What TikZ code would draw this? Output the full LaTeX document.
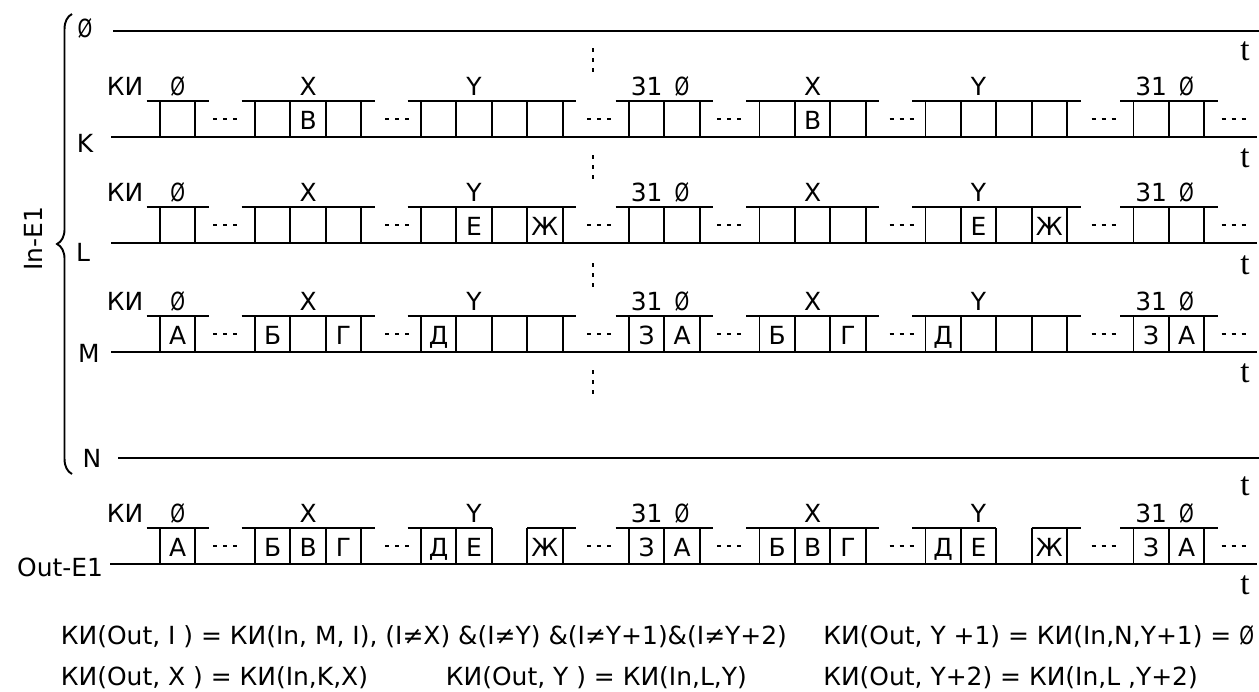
\documentclass[tikz,border=0pt]{standalone}
\usepackage{fontspec}
\usepackage{graphicx}
\usetikzlibrary{decorations.pathreplacing}
\newfontfamily\plotfont{DejaVu Sans}
\newfontfamily\tfont{Liberation Serif}
\newcommand{\nulsym}{\scalebox{0.75}[1]{Ø}}
% группа ячеек: #1 -- линия, #2 -- первая граница, #3 -- число ячеек
\newcommand{\cellgrp}[3]{%
  \draw (#2-13.5,#1-36) -- (#2+#3*35.4+13.5,#1-36);
  \foreach \i in {0,...,#3} \draw (#2+\i*35.4,#1) -- (#2+\i*35.4,#1-36);
}
\tikzset{
  txt/.style={inner sep=0pt, anchor=base},
  tlbl/.style={inner sep=0pt, anchor=base, font=\tfont\fontsize{19}{21}\selectfont},
  gap/.style={dash pattern=on 2.5pt off 3.2pt},
}
\begin{document}
\begin{tikzpicture}[x=0.02cm, y=-0.02cm, line width=1.1pt, line cap=butt,
    font=\plotfont\fontsize{14.2}{16}\selectfont]
  \useasboundingbox (0,0) rectangle (1259,691);

  % Линии
  \draw (113,31) -- (1259,31);
  \foreach \y in {137,243,352} \draw (111,\y) -- (1257,\y);
  \draw (118,458) -- (1259,458);
  \draw (110,564) -- (1257,564);

  % Имена линий
  \node[txt] (l0) at (85,37) {\nulsym};
  \node[txt] (lk) at (85,152) {K};
  \node[txt] (ll) at (83,261) {L};
  \node[txt] (lm) at (89,362) {M};
  \node[txt] (ln) at (92,467) {N};
  \draw[decorate, decoration={brace, amplitude=8.5pt}] (72,474) -- (72,14);
  \node[rotate=90, inner sep=0pt] (in) at (33,239) {In-E1};
  \node[txt, anchor=base east] (out) at (104,576) {Out-E1};

  % Ось t
  \foreach \b [count=\k] in {60,167,274,382,495,594}
    \node[tlbl] (t\k) at (1245,\b) {t};

  % Канальные интервалы
  \foreach \y in {137,243,352,564} {
    \cellgrp{\y}{160}{1}
    \draw[gap] (213,\y-18) -- (238,\y-18);
    \node[txt] (ki\y) at (125,\y-42) {КИ};
    \node[txt] (n\y) at (177.7,\y-42) {\nulsym};
    \foreach \p [count=\k] in {0,504.5} {
      \cellgrp{\y}{255+\p}{3}
      \cellgrp{\y}{629+\p}{2}
      \draw[gap] (385+\p,\y-18) -- (410+\p,\y-18);
      \draw[gap] (587+\p,\y-18) -- (612+\p,\y-18);
      \draw[gap] (717+\p,\y-18) -- (742+\p,\y-18);
      \node[txt] (x\y\k) at (308.1+\p,\y-42) {X};
      \node[txt] (y\y\k) at (474.1+\p,\y-42) {Y};
      \node[txt] (s\y\k) at (646.7+\p,\y-42) {31};
      \node[txt] (o\y\k) at (682.1+\p,\y-42) {\nulsym};
    }
  }
  \foreach \y in {137,243,352} {
    \foreach \p in {0,504.5} {\cellgrp{\y}{421+\p}{4}}
  }
  \foreach \p in {0,504.5} {
    \draw (407.5+\p,528) -- (491.8+\p,528);
    \draw (527.2+\p,528) -- (576+\p,528);
    \foreach \i in {0,...,4} \draw (421+\p+\i*35.4,564) -- (421+\p+\i*35.4,528);
  }

  % Многоточия
  \foreach \v in {48,155,263,370} \draw[gap] (593,\v) -- (593,\v+24);

  % Содержимое K
  \foreach \p [count=\k] in {0,504.5}
    \node[txt] (kv\k) at (308.1+\p,129) {В};
  % Содержимое L
  \foreach \p [count=\k] in {0,504.5} {
    \node[txt] (le\k) at (474.1+\p,235) {Е};
    \node[txt] (lz\k) at (544.9+\p,235) {Ж};
  }
  % Содержимое M
  \node[txt] (ma) at (177.7,344) {А};
  \foreach \p [count=\k] in {0,504.5} {
    \node[txt] (mb\k) at (272.7+\p,344) {Б};
    \node[txt] (mg\k) at (343.5+\p,344) {Г};
    \node[txt] (md\k) at (438.7+\p,344) {Д};
    \node[txt] (mz\k) at (646.7+\p,344) {З};
    \node[txt] (mq\k) at (682.1+\p,344) {А};
  }
  % Содержимое Out
  \node[txt] (oa) at (177.7,556) {А};
  \foreach \p [count=\k] in {0,504.5} {
    \node[txt] (ob\k) at (272.7+\p,556) {Б};
    \node[txt] (ov\k) at (308.1+\p,556) {В};
    \node[txt] (og\k) at (343.5+\p,556) {Г};
    \node[txt] (od\k) at (438.7+\p,556) {Д};
    \node[txt] (oe\k) at (474.1+\p,556) {Е};
    \node[txt] (oz\k) at (544.9+\p,556) {Ж};
    \node[txt] (o3\k) at (646.7+\p,556) {З};
    \node[txt] (oq\k) at (682.1+\p,556) {А};
  }

  % Формулы
  \node[txt, anchor=base west] (f1) at (60,644) {КИ(Out, I ) = КИ(In, M, I), (I≠X) \&(I≠Y) \&(I≠Y+1)\&(I≠Y+2)};
  \node[txt, anchor=base east] (f2) at (1255,644) {КИ(Out, Y +1) = КИ(In,N,Y+1) = \nulsym};
  \node[txt, anchor=base west] (f3) at (60,685) {КИ(Out, X ) = КИ(In,K,X)};
  \node[txt, anchor=base west] (f4) at (445,685) {КИ(Out, Y ) = КИ(In,L,Y)};
  \node[txt, anchor=base west] (f5) at (f2.base west |- f3.base) {КИ(Out, Y+2) = КИ(In,L ,Y+2)};
\end{tikzpicture}
\end{document}
